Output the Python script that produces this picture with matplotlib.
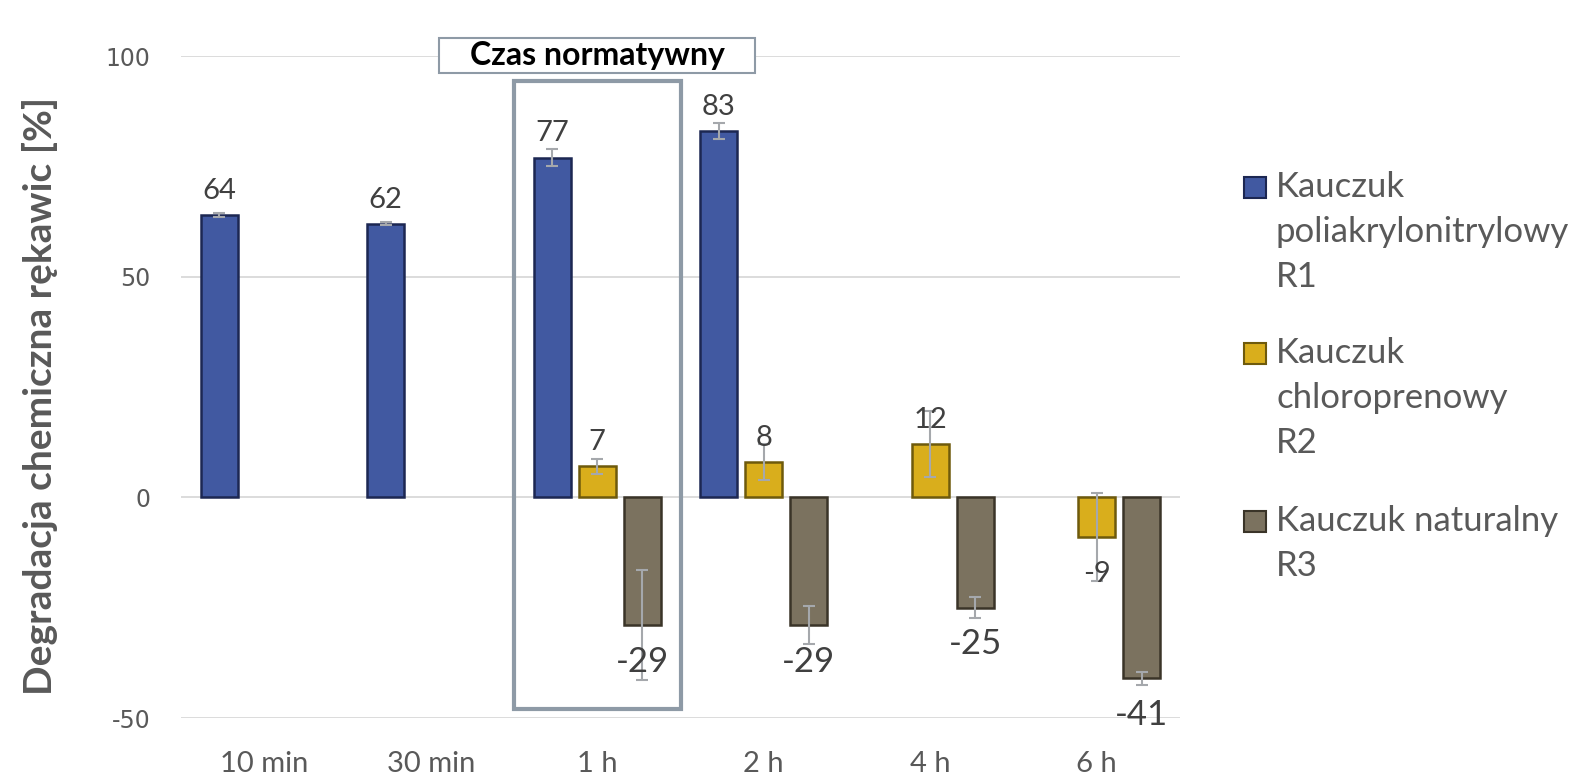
"""
Degradacja chemiczna rękawic - wykres słupkowy
"""
import matplotlib
matplotlib.use('Agg')
import matplotlib.pyplot as plt
import numpy as np
from matplotlib.patches import Rectangle

# dane
czasy = ['10 min', '30 min', '1 h', '2 h', '4 h', '6 h']
nazwy = ['Kauczuk\npoliakrylonitrylowy\nR1',
         'Kauczuk\nchloroprenowy\nR2',
         'Kauczuk naturalny\nR3']
r1 = [64, 62, 77, 83, np.nan, np.nan]
r2 = [np.nan, np.nan, 7, 8, 12, -9]
r3 = [np.nan, np.nan, -29, -29, -25, -41]
r1_err = [0.5, 0.3, 2.0, 1.8, np.nan, np.nan]
r2_err = [np.nan, np.nan, 1.7, 4.0, 7.5, 10.0]
r3_err = [np.nan, np.nan, 12.5, 4.3, 2.4, 1.5]
y_ticks = [-50, 0, 50, 100]

kolory = ['#4159A1', '#D9AE1C', '#7B725F']
krawedzie = ['#1C2752', '#6E5A0C', '#3A3428']
szary = '#595959'

plt.rcParams['font.family'] = ['Lato', 'DejaVu Sans']
plt.rcParams['axes.unicode_minus'] = False

fig = plt.figure(figsize=(15.92, 7.84), dpi=100)
ax = fig.add_axes([181 / 1592, 1 - 718 / 784, 999 / 1592, 662 / 784])

x = np.arange(len(czasy))
szer = 0.22
krok = 0.27
serie = [r1, r2, r3]
bledy = [r1_err, r2_err, r3_err]
for i, (vals, err) in enumerate(zip(serie, bledy)):
    xs = x + (i - 1) * krok
    ax.bar(xs, vals, szer, color=kolory[i], edgecolor=krawedzie[i],
           linewidth=1.8, zorder=3)
    ax.errorbar(xs, vals, yerr=err, fmt='none', ecolor='#A5A8AC',
                elinewidth=1.5, capsize=4.5, capthick=1.5, zorder=4)
    for xx, v in zip(xs, vals):
        if np.isnan(v):
            continue
        if v >= 0:
            ax.annotate(f'{v:.0f}', (xx, v), xytext=(0, 8), textcoords='offset points',
                        ha='center', va='bottom', fontsize=21, color='#404040', zorder=5)
        elif i == 2:
            ax.annotate(f'{v:.0f}', (xx, v), xytext=(0, -15), textcoords='offset points',
                        ha='center', va='top', fontsize=25, color='#404040', zorder=5)
        else:
            ax.annotate(f'{v:.0f}', (xx, v), xytext=(0, -17), textcoords='offset points',
                        ha='center', va='top', fontsize=21, color='#404040', zorder=5)

ax.set_xlim(-0.5, len(czasy) - 0.5)
ax.set_ylim(-50, 100)
ax.set_yticks(y_ticks)
ax.set_xticks(x)
ax.set_xticklabels(czasy)
ax.tick_params(axis='both', length=0, colors=szary)
ax.tick_params(axis='y', pad=22)
ax.tick_params(axis='x', pad=24, labelsize=21)
for lab in ax.get_yticklabels():
    lab.set_family('DejaVu Sans')
    lab.set_fontsize(17)
ax.grid(axis='y', color='#D9D9D9', linewidth=1.3, zorder=0)
for s in ax.spines.values():
    s.set_visible(False)

# ramka czasu normatywnego
ax.add_patch(Rectangle((1.5, -47.9), 1.0, 142.2, fill=False, edgecolor='#8E9AA6',
                       linewidth=3, zorder=2, clip_on=False))
ax.add_patch(Rectangle((1.05, 96.1), 1.9, 7.9, facecolor='white', edgecolor='#8E9AA6',
                       linewidth=1.5, zorder=6, clip_on=False))
ax.text(2, 100.2, 'Czas normatywny', ha='center', va='center', fontsize=23,
        fontweight='bold', color='black', zorder=7, clip_on=False)

fig.text(40 / 1592, 1 - 396 / 784, 'Degradacja chemiczna rękawic [%]', rotation=90,
         ha='center', va='center', fontsize=28, fontweight='bold', color=szary)

# legenda
baza = [197, 363, 531]
for i, nazwa in enumerate(nazwy):
    y0 = baza[i]
    fig.patches.append(Rectangle((1244 / 1592, 1 - (y0 + 1) / 784), 22 / 1592, 21 / 784,
                                 facecolor=kolory[i], edgecolor=krawedzie[i], linewidth=1.5,
                                 transform=fig.transFigure, figure=fig))
    for j, linia in enumerate(nazwa.split('\n')):
        fig.text(1276 / 1592, 1 - (y0 + j * 45) / 784, linia, ha='left', va='baseline',
                 fontsize=25, color=szary)

fig.savefig('out.png', dpi=100)
